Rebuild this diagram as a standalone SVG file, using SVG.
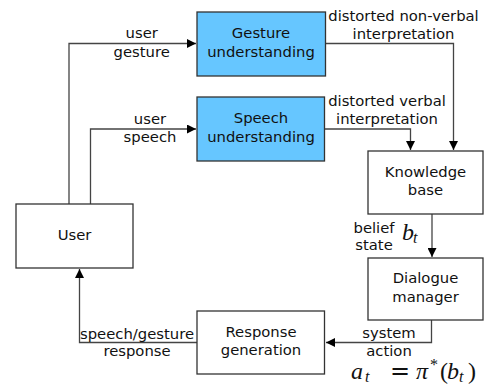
<svg xmlns="http://www.w3.org/2000/svg" width="485" height="390" viewBox="0 0 485 390">
<style>
.box{fill:#fff;stroke:#333;stroke-width:1.3}
.blue{fill:#66c6ff}
.t{font-family:"DejaVu Sans",sans-serif;font-size:14.8px;fill:#111;text-anchor:middle}
.m{font-family:"Liberation Serif","DejaVu Serif",serif;font-style:italic;font-size:24px;fill:#111}
.n{font-style:normal}
.eq{font-family:"DejaVu Serif",serif;font-style:normal}
.s{font-size:16px}
.c{fill:none;stroke:#444;stroke-width:1.3}
</style>
<defs>
<marker id="ah" markerWidth="9" markerHeight="9" refX="9" refY="4.5" orient="auto" markerUnits="userSpaceOnUse">
<path d="M0,0 L9,4.5 L0,9 Z" fill="#000"/>
</marker>
</defs>
<rect width="485" height="390" fill="#fff"/>
<g id="connectors">
<path class="c" d="M69,204 V43.5 H196" marker-end="url(#ah)"/>
<path class="c" d="M90.5,204 V129 H196" marker-end="url(#ah)"/>
<path class="c" d="M325,43.5 H453.5 V150" marker-end="url(#ah)"/>
<path class="c" d="M325,129 H410.5 V150" marker-end="url(#ah)"/>
<path class="c" d="M432,214 V257" marker-end="url(#ah)"/>
<path class="c" d="M431.5,320 V342.5 H326" marker-end="url(#ah)"/>
<path class="c" d="M197,342.5 H79.5 V269" marker-end="url(#ah)"/>
<text class="t" x="141.7" y="38">user</text>
<text class="t" x="141.7" y="56.5">gesture</text>
<text class="t" x="150" y="123.5">user</text>
<text class="t" x="150" y="141.5">speech</text>
<text class="t" x="403.5" y="20.5">distorted non-verbal</text>
<text class="t" x="403.5" y="38.5">interpretation</text>
<text class="t" x="387" y="106">distorted verbal</text>
<text class="t" x="387" y="123.5">interpretation</text>
<text class="t" x="374" y="232.5">belief</text>
<text class="t" x="374" y="250">state</text>
<text class="m" y="240" font-size="23"><tspan x="402">b</tspan><tspan class="s" x="413" dy="3">t</tspan></text>
<text class="t" x="389" y="338">system</text>
<text class="t" x="389" y="356">action</text>
<text class="m" y="379"><tspan x="351">a</tspan><tspan class="s" x="365" dy="3">t</tspan><tspan class="eq" x="390" dy="-3">=</tspan><tspan x="416">π</tspan><tspan class="n s" x="430" dy="-9">*</tspan><tspan class="n" x="440" dy="9">(</tspan><tspan x="447">b</tspan><tspan class="s" x="459" dy="3">t</tspan><tspan class="n" x="468" dy="-3">)</tspan></text>
<text class="t" x="137" y="338.5">speech/gesture</text>
<text class="t" x="137" y="356">response</text>
</g>
<g id="gesture">
<rect class="box blue" x="197" y="12" width="128.5" height="64"/>
<text class="t" x="261" y="38.3">Gesture</text>
<text class="t" x="261" y="56.7">understanding</text>
</g>
<g id="speech">
<rect class="box blue" x="197" y="97" width="127.5" height="64"/>
<text class="t" x="261" y="123.3">Speech</text>
<text class="t" x="261" y="141.7">understanding</text>
</g>
<g id="kb">
<rect class="box" x="368" y="151" width="115" height="63"/>
<text class="t" x="425.5" y="176.7">Knowledge</text>
<text class="t" x="425.5" y="195">base</text>
</g>
<g id="dm">
<rect class="box" x="368" y="258" width="115" height="62"/>
<text class="t" x="425.5" y="283.3">Dialogue</text>
<text class="t" x="425.5" y="301.7">manager</text>
</g>
<g id="rg">
<rect class="box" x="197" y="311" width="127.5" height="63"/>
<text class="t" x="261" y="336.7">Response</text>
<text class="t" x="261" y="355">generation</text>
</g>
<g id="user">
<rect class="box" x="16" y="204" width="117" height="64"/>
<text class="t" x="74.5" y="240">User</text>
</g>
</svg>
